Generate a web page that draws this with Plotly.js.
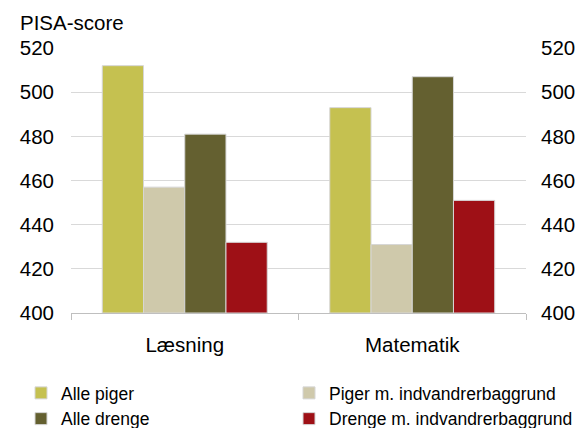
<!DOCTYPE html>
<html><head><meta charset="utf-8">
<script src="https://cdn.plot.ly/plotly-3.0.1.min.js"></script>
<style>body{margin:0;}#chart{width:579px;height:428px;}</style>
</head><body><div id="chart"></div>
<script>
const categories = ['Læsning', 'Matematik'];
const seriesNames = ['Alle piger', 'Piger m. indvandrerbaggrund', 'Alle drenge', 'Drenge m. indvandrerbaggrund'];
const allePiger = [512, 493];
const pigerIndv = [457, 431];
const alleDrenge = [481, 507];
const drengeIndv = [432, 451];
const yTicks = [400, 420, 440, 460, 480, 500, 520];
const colors = ['#c5c150', '#cfc9ab', '#646030', '#9e1016'];
const legendOf = ['legend', 'legend2', 'legend', 'legend2'];

const values = [allePiger, pigerIndv, alleDrenge, drengeIndv];
const traces = values.map((v, i) => ({
  type: 'bar', x: categories, y: v.map(d => d - 400), base: 400, name: seriesNames[i],
  legend: legendOf[i],
  marker: {color: colors[i], line: {color: '#d6d6d6', width: 1}}
}));
traces.push({type: 'scatter', x: categories, y: [null, null], yaxis: 'y2', showlegend: false, hoverinfo: 'skip', mode: 'markers'});

const fam = 'Liberation Sans, Arial, sans-serif';
const font = {family: fam, size: 20.5, color: '#000'};
const legFont = {family: fam, size: 17.5, color: '#000'};
const legBase = {orientation: 'v', xref: 'container', yref: 'container', xanchor: 'left', yanchor: 'top', y: 1 - 375/428, font: legFont, tracegroupgap: 0, traceorder: 'normal', bgcolor: 'rgba(0,0,0,0)', borderwidth: 0};
const layout = {
  width: 579, height: 428,
  margin: {l: 71, r: 53, t: 48, b: 115, autoexpand: false},
  paper_bgcolor: '#fff', plot_bgcolor: '#fff',
  font: font,
  barmode: 'group', bargap: 0.275, bargroupgap: 0,
  title: {text: 'PISA-score', xref: 'container', yref: 'container', x: 20/579, xanchor: 'left', y: 1 - 23/428, yanchor: 'middle', font: font},
  xaxis: {type: 'category', showline: true, linecolor: '#bfbfbf', linewidth: 1, ticks: 'outside', tickson: 'boundaries', ticklen: 6, tickcolor: '#bfbfbf', showgrid: false, ticklabelstandoff: 13, tickangle: 0, automargin: false, tickfont: font},
  yaxis: {range: [400, 520], tickvals: yTicks, showgrid: true, gridcolor: '#d9d9d9', gridwidth: 1, zeroline: false, showline: false, ticks: '', ticklabelstandoff: 16, automargin: false, tickfont: font},
  yaxis2: {range: [400, 520], tickvals: yTicks, overlaying: 'y', side: 'right', showgrid: false, zeroline: false, showline: false, ticks: '', ticklabelstandoff: 14, automargin: false, tickfont: font},
  legend: Object.assign({}, legBase, {x: 21/579}),
  legend2: Object.assign({}, legBase, {x: 289/579}),
  showlegend: true
};
Plotly.newPlot('chart', traces, layout, {displayModeBar: false, staticPlot: true});
</script>
</body></html>
